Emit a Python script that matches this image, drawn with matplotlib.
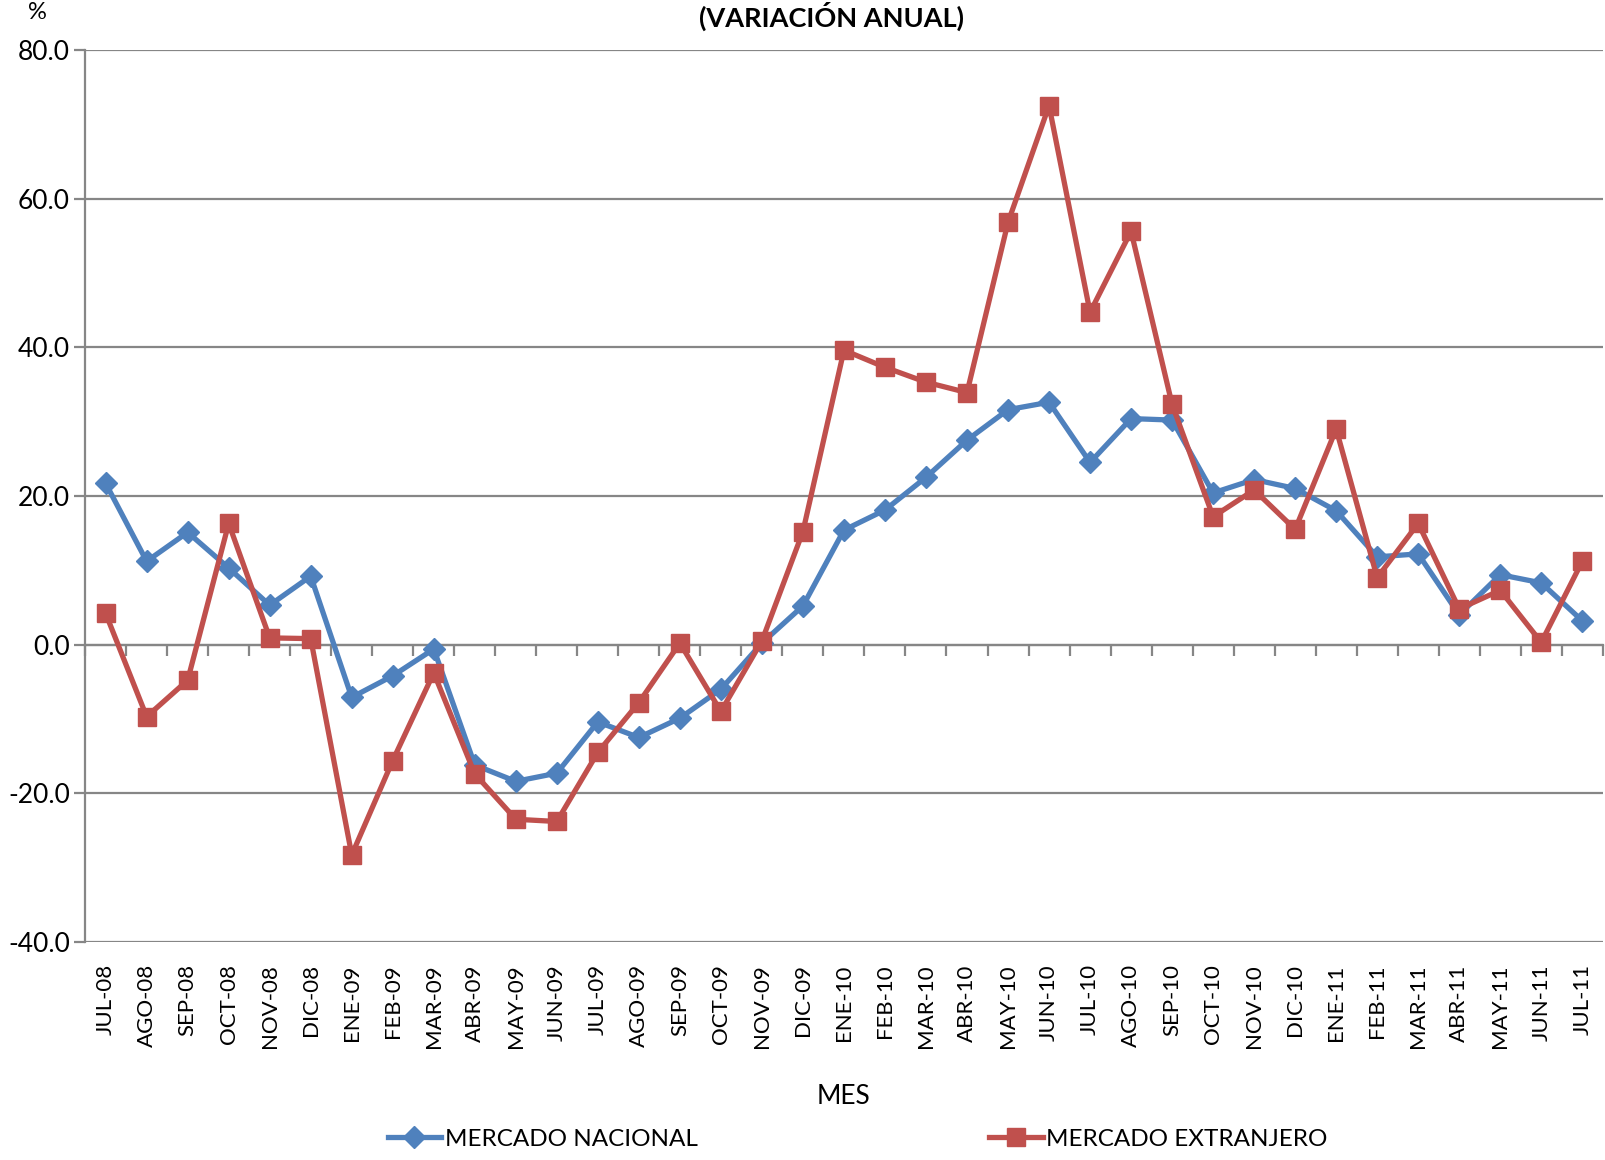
import numpy as np
import matplotlib
matplotlib.use("Agg")
import matplotlib.pyplot as plt

plt.rcParams['font.family'] = ['Lato', 'DejaVu Sans']

meses = ["JUL-08", "AGO-08", "SEP-08", "OCT-08", "NOV-08", "DIC-08",
         "ENE-09", "FEB-09", "MAR-09", "ABR-09", "MAY-09", "JUN-09",
         "JUL-09", "AGO-09", "SEP-09", "OCT-09", "NOV-09", "DIC-09",
         "ENE-10", "FEB-10", "MAR-10", "ABR-10", "MAY-10", "JUN-10",
         "JUL-10", "AGO-10", "SEP-10", "OCT-10", "NOV-10", "DIC-10",
         "ENE-11", "FEB-11", "MAR-11", "ABR-11", "MAY-11", "JUN-11", "JUL-11"]

nacional = [21.7, 11.2, 15.1, 10.3, 5.3, 9.2,
            -7.1, -4.2, -0.6, -16.2, -18.4, -17.3,
            -10.4, -12.5, -9.9, -6.0, 0.2, 5.2,
            15.4, 18.1, 22.5, 27.5, 31.6, 32.6,
            24.5, 30.4, 30.2, 20.4, 22.2, 21.0,
            18.0, 11.8, 12.2, 4.0, 9.4, 8.3, 3.2]

extranjero = [4.2, -9.7, -4.8, 16.3, 0.9, 0.8,
              -28.3, -15.6, -3.8, -17.4, -23.5, -23.8,
              -14.5, -7.8, 0.2, -9.0, 0.5, 15.2,
              39.6, 37.3, 35.3, 33.9, 56.8, 72.5,
              44.7, 55.6, 32.3, 17.2, 20.8, 15.5,
              29.0, 9.0, 16.3, 4.8, 7.3, 0.3, 11.2]

azul = "#4F81BD"
rojo = "#C0504D"
gris = "#868686"

fig = plt.figure(figsize=(16.06, 11.6), dpi=100)
ax = fig.add_axes([0.053, 0.188, 0.945, 0.769])

x = np.arange(len(meses))
ax.plot(x, nacional, color=azul, lw=3.8, marker="D", ms=11.5,
        label="MERCADO NACIONAL", zorder=3)
ax.plot(x, extranjero, color=rojo, lw=3.8, marker="s", ms=13.5,
        label="MERCADO EXTRANJERO", zorder=4)

ax.set_xlim(-0.5, len(meses) - 0.5)
ax.set_ylim(-40, 80)
ax.set_yticks(np.arange(-40, 81, 20))
ax.set_yticklabels([f"{v:.1f}" for v in np.arange(-40, 81, 20)], fontsize=19)
ax.yaxis.grid(True, color=gris, lw=1.6)
ax.set_axisbelow(True)

for s in ["top", "right", "bottom"]:
    ax.spines[s].set_visible(False)
ax.spines["left"].set_color(gris)
ax.spines["left"].set_linewidth(1.6)
ax.tick_params(axis="y", color=gris, width=1.6, length=8, pad=3)

ax.set_xticks(x)
ax.set_xticklabels(meses, rotation=90, fontsize=16)
ax.tick_params(axis="x", length=0, pad=16)

# eje horizontal cruzando en 0 con marcas entre categorias
sec = ax.secondary_xaxis(1 / 3)
sec.set_xticks(np.arange(len(meses) + 1) - 0.5)
sec.set_xticklabels([])
sec.tick_params(direction="out", length=8, color=gris, width=1.6)
sec.spines["bottom"].set_color(gris)
sec.spines["bottom"].set_linewidth(1.6)

ax.set_xlabel("MES", fontsize=19, labelpad=26)

fig.text(0.023, 0.989, "%", fontsize=17, ha="center", va="center")
fig.text(0.518, 0.986, "(VARIACIÓN ANUAL)", fontsize=19.5, fontweight="bold",
         ha="center", va="center")

fig.legend(loc="center", bbox_to_anchor=(0.534, 0.018), ncol=2, frameon=False,
           fontsize=17.5, handlelength=2.2, columnspacing=12.0, handletextpad=0.15)

fig.savefig("out.png", dpi=100)
